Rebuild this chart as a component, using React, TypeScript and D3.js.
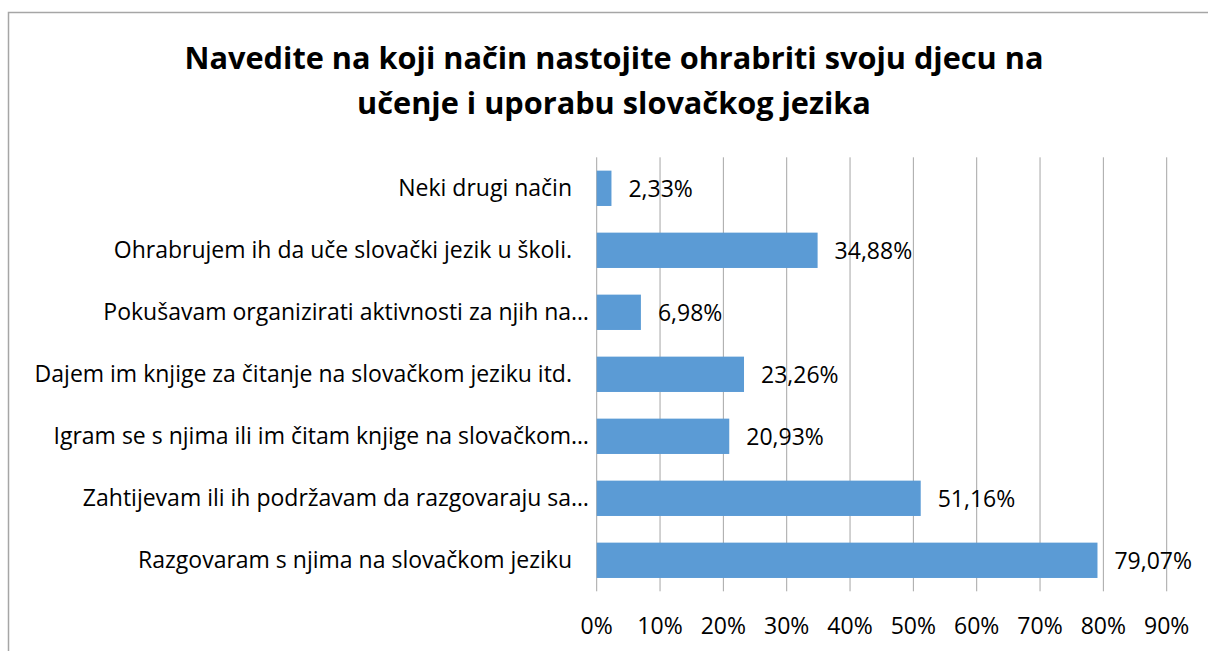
import React from "react";
import * as d3 from "d3";

const categories = [
  "Neki drugi način",
  "Ohrabrujem ih da uče slovački jezik u školi.",
  "Pokušavam organizirati aktivnosti za njih na…",
  "Dajem im knjige za čitanje na slovačkom jeziku itd.",
  "Igram se s njima ili im čitam knjige na slovačkom…",
  "Zahtijevam ili ih podržavam da razgovaraju sa…",
  "Razgovaram s njima na slovačkom jeziku",
];
const values = [2.33, 34.88, 6.98, 23.26, 20.93, 51.16, 79.07];
const valueLabels = ["2,33%", "34,88%", "6,98%", "23,26%", "20,93%", "51,16%", "79,07%"];
const tickValues = [0, 10, 20, 30, 40, 50, 60, 70, 80, 90];
const titleLines = [
  "Navedite na koji način nastojite ohrabriti svoju djecu na",
  "učenje i uporabu slovačkog jezika",
];

const W = 1208;
const H = 651;
const FONT = "'Open Sans', Lato, sans-serif";

export default function App() {
  const x = d3.scaleLinear().domain([0, 90]).range([596.7, 1166.7]);
  const y = d3
    .scaleBand<string>()
    .domain(categories)
    .range([157.3, 591.3])
    .paddingInner(0.43)
    .paddingOuter(0.215);
  const bh = y.bandwidth();

  return (
    <svg
      width={W}
      height={H}
      style={{ position: "absolute", left: 0, top: 0, background: "#fff" }}
    >
      <rect x={0} y={0} width={W} height={H} fill="#fff" />
      <rect
        x={8.5}
        y={12.5}
        width={W + 20}
        height={H + 20}
        fill="none"
        stroke="#a6a6a6"
        strokeWidth={1.5}
      />
      {titleLines.map((t, i) => (
        <text
          key={i}
          x={614}
          y={69 + i * 45}
          textAnchor="middle"
          fontFamily={FONT}
          fontWeight={700}
          fontSize={30.7}
          fill="#000"
        >
          {t}
        </text>
      ))}
      {tickValues.map((t) => (
        <line
          key={t}
          x1={x(t)}
          x2={x(t)}
          y1={157.3}
          y2={591.3}
          stroke="#a6a6a6"
          strokeWidth={1}
        />
      ))}
      {categories.map((c, i) => (
        <g key={c}>
          <rect
            x={x(0)}
            y={y(c)!}
            width={x(values[i]) - x(0)}
            height={bh}
            fill="#5b9bd5"
          />
          <text
            x={x(values[i]) + 17}
            y={y(c)! + bh / 2 + 1}
            dy="0.35em"
            fontFamily={FONT}
            fontSize={23}
            fill="#000"
          >
            {valueLabels[i]}
          </text>
          <text
            x={c.endsWith("…") ? 589 : 572}
            y={y(c)! + bh / 2}
            dy="0.35em"
            textAnchor="end"
            fontFamily={FONT}
            fontSize={23}
            fill="#000"
          >
            {c}
          </text>
        </g>
      ))}
      {tickValues.map((t) => (
        <text
          key={"l" + t}
          x={x(t)}
          y={626}
          dy="0.35em"
          textAnchor="middle"
          fontFamily={FONT}
          fontSize={23}
          fill="#000"
        >
          {t + "%"}
        </text>
      ))}
    </svg>
  );
}
